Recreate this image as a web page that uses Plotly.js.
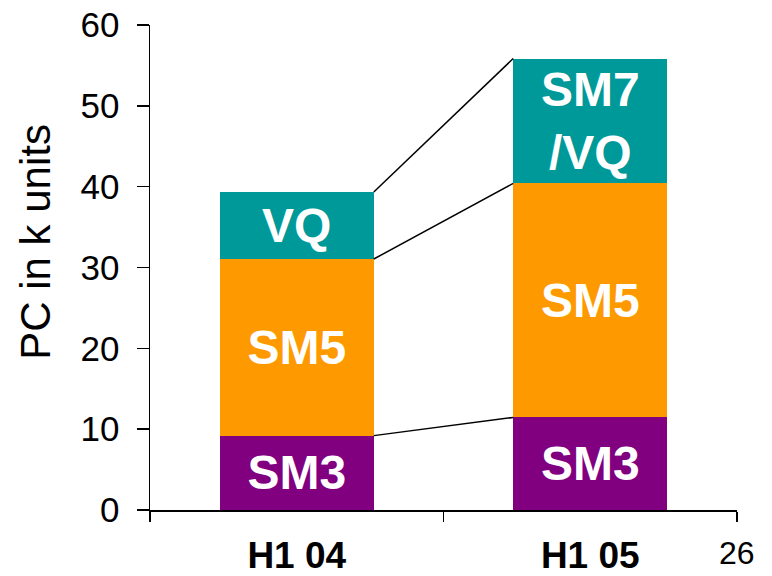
<!DOCTYPE html>
<html>
<head>
<meta charset="utf-8">
<script src="https://cdn.plot.ly/plotly-3.0.1.min.js"></script>
<style>html,body{margin:0;padding:0;background:#fff;}#chart{width:772px;height:576px;}</style>
</head>
<body>
<div id="chart"></div>
<script>
const categories = ["H1 04", "H1 05"];
const sm3 = [9.2, 11.45];
const sm5 = [21.85, 28.95];
const vq = [8.3, 15.45];
const segLabels = {sm3: ["SM3", "SM3"], sm5: ["SM5", "SM5"], vq: ["VQ", "SM7<br>/VQ"]};
const yTicks = [0, 10, 20, 30, 40, 50, 60];
const yTitle = "PC in k units";
const pageNumber = "26";

const FONT = "Liberation Sans, Arial, sans-serif";
const barWidth = 0.525;
const colors = {sm3: "#800080", sm5: "#FF9900", vq: "#009999"};

function barTrace(vals, labels, color, name) {
  return {
    type: "bar", x: categories, y: vals, name: name,
    width: barWidth, marker: {color: color, line: {width: 0}},
    text: labels, textposition: "inside", insidetextanchor: "middle",
    constraintext: "none", textangle: 0,
    textfont: {family: FONT, size: 48, color: "#ffffff", weight: "bold"},
    hoverinfo: "skip"
  };
}

const traces = [
  barTrace(sm3, segLabels.sm3, colors.sm3, "SM3"),
  barTrace(sm5, segLabels.sm5, colors.sm5, "SM5"),
  barTrace(vq, segLabels.vq, colors.vq, "VQ")
];

// connector lines between stacked segment tops
const cum1 = sm3.slice();
const cum2 = sm3.map((v, i) => v + sm5[i]);
const cum3 = cum2.map((v, i) => v + vq[i]);
[cum1, cum2, cum3].forEach(c => {
  traces.push({
    type: "scatter", mode: "lines", xaxis: "x2", yaxis: "y",
    x: [0 + barWidth / 2, 1 - barWidth / 2], y: [c[0], c[1]],
    line: {color: "#000000", width: 1.5}, hoverinfo: "skip", showlegend: false
  });
});

const layout = {
  width: 772, height: 576,
  margin: {l: 150, r: 35, t: 25, b: 66},
  paper_bgcolor: "#ffffff", plot_bgcolor: "#ffffff",
  barmode: "stack", showlegend: false,
  font: {family: FONT, color: "#000000"},
  xaxis: {
    type: "category", range: [-0.5, 1.5],
    showline: true, linecolor: "#000000", linewidth: 1.5,
    ticks: "outside", tickson: "boundaries", ticklen: 10, tickwidth: 1.5, tickcolor: "#000000",
    tickfont: {family: FONT, size: 37, color: "#000000", weight: "bold"},
    ticklabelstandoff: 12,
    showgrid: false, zeroline: false, fixedrange: true
  },
  xaxis2: {
    overlaying: "x", range: [-0.5, 1.5], visible: false, showgrid: false, zeroline: false
  },
  yaxis: {
    range: [0, 60], tickvals: yTicks, ticktext: yTicks.map(String),
    showline: true, linecolor: "#000000", linewidth: 1.5,
    ticks: "outside", ticklen: 12, tickwidth: 1.5, tickcolor: "#000000",
    tickfont: {family: FONT, size: 35, color: "#000000"},
    ticklabelstandoff: 10,
    showgrid: false, zeroline: false
  },
  annotations: [
    {
      text: yTitle, xref: "paper", yref: "paper", x: -0.195, y: 0.552,
      xanchor: "center", yanchor: "middle", textangle: -90, showarrow: false,
      font: {family: FONT, size: 42, color: "#000000"}
    },
    {
      text: pageNumber, xref: "paper", yref: "paper", x: 1.0, y: -0.088,
      xanchor: "center", yanchor: "middle", showarrow: false,
      font: {family: FONT, size: 32, color: "#000000"}
    }
  ]
};

Plotly.newPlot("chart", traces, layout, {displayModeBar: false, staticPlot: true});
</script>
</body>
</html>
